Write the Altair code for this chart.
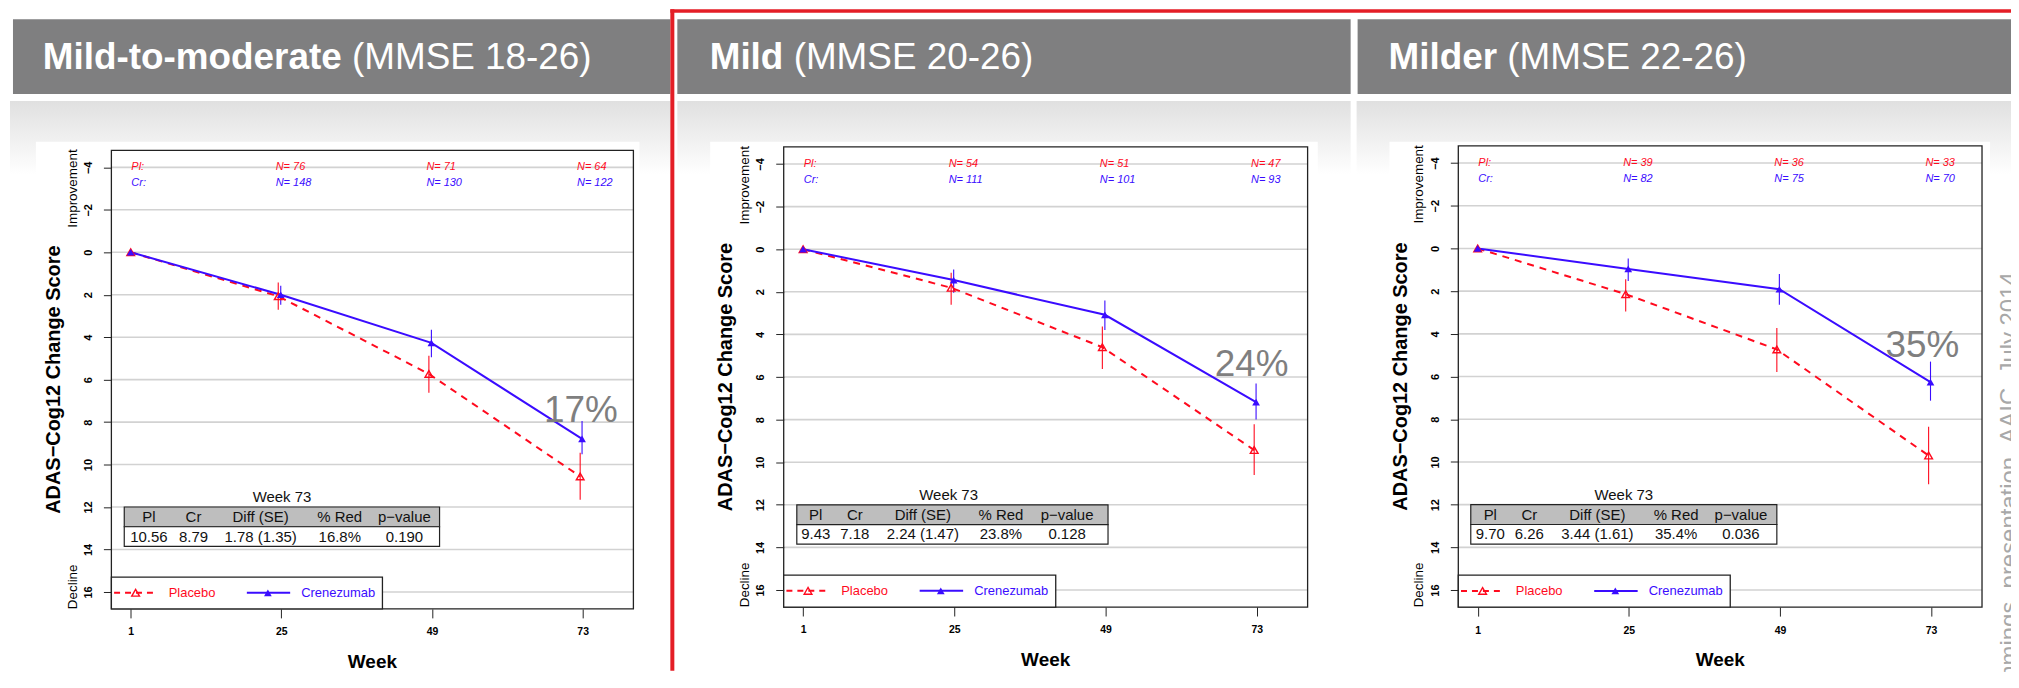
import altair as alt
import pandas as pd

# ---------------- chart values ----------------
weeks = [1, 25, 49, 73]
title_bold = ["Mild-to-moderate", "Mild", "Milder"]
title_rest = ["(MMSE 18-26)", "(MMSE 20-26)", "(MMSE 22-26)"]

placebo_x = [1, 24.5, 48.5, 72.6]
cren_x = [1, 24.9, 48.9, 72.9]

placebo_mean = [[0, 2.07, 5.73, 10.56], [0, 1.81, 4.60, 9.43], [0, 2.14, 4.73, 9.70]]
placebo_lo = [[0, 1.43, 4.87, 9.44], [0, 1.10, 3.63, 8.22], [0, 1.44, 3.72, 8.35]]
placebo_hi = [[0, 2.71, 6.62, 11.66], [0, 2.61, 5.62, 10.60], [0, 2.95, 5.79, 11.04]]
cren_mean = [[0, 2.00, 4.27, 8.79], [0, 1.45, 3.08, 7.18], [0, 0.96, 1.91, 6.26]]
cren_lo = [[0, 1.58, 3.65, 7.95], [0, 0.95, 2.41, 6.31], [0, 0.47, 1.20, 5.30]]
cren_hi = [[0, 2.47, 4.95, 9.52], [0, 2.04, 3.79, 7.99], [0, 1.52, 2.64, 7.13]]

n_placebo = [[76, 71, 64], [54, 51, 47], [39, 36, 33]]
n_cren = [[148, 130, 122], [111, 101, 93], [82, 75, 70]]

table_caption = "Week 73"
table_header = ["Pl", "Cr", "Diff (SE)", "% Red", "p\u2212value"]
table_values = [
    ["10.56", "8.79", "1.78 (1.35)", "16.8%", "0.190"],
    ["9.43", "7.18", "2.24 (1.47)", "23.8%", "0.128"],
    ["9.70", "6.26", "3.44 (1.61)", "35.4%", "0.036"],
]
pct_reduction = ["17%", "24%", "35%"]
y_ticks = [-4, -2, 0, 2, 4, 6, 8, 10, 12, 14, 16]
watermark = "Cummings_presentation_AAIC_July 2014"

# ---------------- layout / style ----------------
RED = "#FF0A1E"
BLUE = "#3A0CFF"
FONT = "Liberation Sans"
W, H = 2011, 664
X_DOM = [-2.08, 81.08]
Y_DOM = [-4.8, 16.8]
x_rng = [[103.8, 627.9], [778.8, 1304.8], [1456.1, 1981.9]]
y_rng = [[141.6, 602.0], [138.2, 600.1], [137.2, 600.2]]

n_row_y = [-4.0, -3.27]
n_label_x = [1.1, 24.1, 48.1, 72.1]
table_x = [[-0.03, 50.2], [0.0, 49.4], [-0.1, 48.5]]
table_y = [12.0, 12.93, 13.85]
table_text_y = [12.47, 13.39]
table_col_x = [[3.9, 11.0, 21.7, 34.3, 44.6], [3.0, 9.2, 20.0, 32.4, 42.9], [3.0, 9.2, 20.0, 32.5, 42.8]]
caption_x = [25.1, 24.1, 24.2]
caption_y = 11.53
legend_box = [41.1, 15.3]
legend_y = 16.04
leg_pl_seg, leg_pl_pt, leg_pl_txt = [-1.65, 5.3], 1.78, 7.05
leg_cr_seg, leg_cr_pt, leg_cr_txt = [19.5, 26.4], 22.85, 28.15
pct_pos = [(72.7, 8.0), (72.2, 5.97), (71.6, 5.1)]
ylab_pos = (-11.17, 6.0)
side_x, improvement_y, decline_y = -8.24, -3.0, 15.76
week_pos = (39.5, 19.28)

grad_x = [[2, 665], [672, 1348], [1354, 2011]]
grad_y = [92, 166]
head_x = [[5, 665], [672, 1348], [1355, 2011]]
head_y = [10, 85]
paper_x = [[28, 634], [705, 1315], [1387, 1990]]
paper_y = [133, 664]
head_text_x = [[35, 345.4], [704.5, 788.8], [1386, 1505.3]]
head_text_y = 60.3
watermark_pos = (1998, 264)


# ---------------- helpers for pixel-placed slide decorations ----------------
def px_rects(rows, **mark):
    df = pd.DataFrame(rows, columns=["x", "x2", "y", "y2"])
    return alt.Chart(df).mark_rect(**mark).encode(
        x=alt.X("x:Q", scale=None, axis=None), x2="x2:Q",
        y=alt.Y("y:Q", scale=None, axis=None), y2="y2:Q")


def px_text(rows, **mark):
    df = pd.DataFrame(rows, columns=["x", "y", "t"])
    return alt.Chart(df).mark_text(**mark).encode(
        x=alt.X("x:Q", scale=None, axis=None),
        y=alt.Y("y:Q", scale=None, axis=None), text="t:N")


gradient = alt.LinearGradient(
    gradient="linear", x1=0, x2=0, y1=0, y2=1,
    stops=[alt.GradientStop(color="#E0E0E0", offset=0),
           alt.GradientStop(color="#FFFFFF", offset=1)])

deco = [
    px_rects([[a, b, grad_y[0], grad_y[1]] for a, b in grad_x], fill=gradient),
    px_rects([[a, b, paper_y[0], paper_y[1]] for a, b in paper_x], color="white"),
    px_rects([[a, b, head_y[0], head_y[1]] for a, b in head_x], color="#7F7F80"),
    px_rects([[665, W, 0, 3.5], [665, 669, 0, H]], color="#E41E26"),
    px_text([[head_text_x[i][0], head_text_y, title_bold[i]] for i in range(3)],
            font=FONT, fontSize=37, fontWeight="bold", color="white",
            align="left", baseline="alphabetic"),
    px_text([[head_text_x[i][1], head_text_y, title_rest[i]] for i in range(3)],
            font=FONT, fontSize=37, color="white", align="left", baseline="alphabetic"),
    px_text([[watermark_pos[0], watermark_pos[1], watermark]], font=FONT, fontSize=24,
            color="#A8A8A8", angle=270, align="right", baseline="top"),
]


# ---------------- one R-style panel ----------------
def panel(i):
    xs = alt.Scale(domain=X_DOM, range=x_rng[i], nice=False, zero=False)
    ys = alt.Scale(domain=Y_DOM, range=y_rng[i], nice=False, zero=False)
    x_axis = alt.Axis(
        values=weeks, orient="bottom", offset=y_rng[i][1] - H, domain=False, grid=False,
        tickSize=9, tickColor="#222222", tickWidth=1, labelFont=FONT, labelFontSize=10.5,
        labelFontWeight="bold", labelColor="black", labelPadding=9, labelFlush=False,
        labelOverlap=False, format="d", title=None, zindex=2)
    y_axis = alt.Axis(
        values=y_ticks, orient="left", offset=-x_rng[i][0], domain=False, grid=False,
        tickSize=8, tickColor="#222222", tickWidth=1, labelFont=FONT, labelFontSize=11,
        labelFontWeight="bold", labelColor="black", labelAngle=270, labelAlign="center",
        labelBaseline="middle", labelPadding=15, labelFlush=False, labelOverlap=False,
        format="d", title=None, zindex=2)

    def XY(xf="x", yf="y"):
        return dict(x=alt.X(xf, type="quantitative", scale=xs, axis=x_axis),
                    y=alt.Y(yf, type="quantitative", scale=ys, axis=y_axis))

    grid = alt.Chart(pd.DataFrame({"y": y_ticks, "x": X_DOM[0], "x2": X_DOM[1]})).mark_rule(
        color="#D2D2D2", strokeWidth=1.6).encode(**XY(), x2="x2:Q")

    frame = alt.Chart(pd.DataFrame({"x": [X_DOM[0]], "x2": [X_DOM[1]],
                                    "y": [Y_DOM[0]], "y2": [Y_DOM[1]]})).mark_rect(
        fillOpacity=0, stroke="#222222", strokeWidth=1.3).encode(**XY(), x2="x2:Q", y2="y2:Q")

    pl = pd.DataFrame({"x": placebo_x, "y": placebo_mean[i], "lo": placebo_lo[i], "hi": placebo_hi[i]})
    cr = pd.DataFrame({"x": cren_x, "y": cren_mean[i], "lo": cren_lo[i], "hi": cren_hi[i]})

    pl_err = alt.Chart(pl.iloc[1:]).mark_rule(color=RED, strokeWidth=1.1).encode(**XY("x", "lo"), y2="hi:Q")
    cr_err = alt.Chart(cr.iloc[1:]).mark_rule(color=BLUE, strokeWidth=1.1).encode(**XY("x", "lo"), y2="hi:Q")
    pl_line = alt.Chart(pl).mark_line(color=RED, strokeWidth=2, strokeDash=[7, 6]).encode(**XY())
    cr_line = alt.Chart(cr).mark_line(color=BLUE, strokeWidth=2).encode(**XY())
    pl_pt = alt.Chart(pl).mark_point(shape="triangle-up", filled=False, color=RED, size=60,
                                     strokeWidth=1.4, opacity=1).encode(**XY())
    cr_pt = alt.Chart(cr).mark_point(shape="triangle-up", filled=True, color=BLUE, size=60,
                                     opacity=1).encode(**XY())

    n_pl = pd.DataFrame({"x": n_label_x, "y": n_row_y[0],
                         "t": ["Pl:"] + [f"N= {n}" for n in n_placebo[i]]})
    n_cr = pd.DataFrame({"x": n_label_x, "y": n_row_y[1],
                         "t": ["Cr:"] + [f"N= {n}" for n in n_cren[i]]})
    n_txt = [alt.Chart(df).mark_text(font=FONT, fontSize=11, fontStyle="italic", color=c,
                                     align="left", baseline="middle").encode(**XY(), text="t:N")
             for df, c in ((n_pl, RED), (n_cr, BLUE))]

    # table (Week 73 summary)
    tb = pd.DataFrame({"x": [table_x[i][0]] * 2, "x2": [table_x[i][1]] * 2,
                       "y": [table_y[0], table_y[1]], "y2": [table_y[1], table_y[2]],
                       "f": ["#BEBEBE", "#FFFFFF"]})
    tb_rect = alt.Chart(tb).mark_rect(stroke="#222222", strokeWidth=1.2).encode(
        **XY(), x2="x2:Q", y2="y2:Q", fill=alt.Fill("f:N", scale=None))
    cells = pd.DataFrame({
        "x": table_col_x[i] * 2 + [caption_x[i]],
        "y": [table_text_y[0]] * 5 + [table_text_y[1]] * 5 + [caption_y],
        "t": table_header + table_values[i] + [table_caption]})
    tb_txt = alt.Chart(cells).mark_text(font=FONT, fontSize=15, color="#111111",
                                        align="center", baseline="middle").encode(**XY(), text="t:N")

    # legend box
    lg = pd.DataFrame({"x": [X_DOM[0]], "x2": [legend_box[0]], "y": [legend_box[1]], "y2": [Y_DOM[1]]})
    lg_rect = alt.Chart(lg).mark_rect(fill="white", stroke="#222222", strokeWidth=1.3).encode(
        **XY(), x2="x2:Q", y2="y2:Q")
    lg_pl_line = alt.Chart(pd.DataFrame({"x": leg_pl_seg, "y": legend_y})).mark_line(
        color=RED, strokeWidth=2, strokeDash=[6, 5]).encode(**XY())
    lg_cr_line = alt.Chart(pd.DataFrame({"x": leg_cr_seg, "y": legend_y})).mark_line(
        color=BLUE, strokeWidth=2).encode(**XY())
    lg_pl_pt = alt.Chart(pd.DataFrame({"x": [leg_pl_pt], "y": [legend_y]})).mark_point(
        shape="triangle-up", filled=False, color=RED, size=60, strokeWidth=1.4, opacity=1).encode(**XY())
    lg_cr_pt = alt.Chart(pd.DataFrame({"x": [leg_cr_pt], "y": [legend_y]})).mark_point(
        shape="triangle-up", filled=True, color=BLUE, size=60, opacity=1).encode(**XY())
    lg_txt = alt.Chart(pd.DataFrame({"x": [leg_pl_txt, leg_cr_txt], "y": legend_y,
                                     "t": ["Placebo", "Crenezumab"], "c": [RED, BLUE]})).mark_text(
        font=FONT, fontSize=13, align="left", baseline="middle").encode(
        **XY(), text="t:N", color=alt.Color("c:N", scale=None))

    pct = alt.Chart(pd.DataFrame({"x": [pct_pos[i][0]], "y": [pct_pos[i][1]], "t": [pct_reduction[i]]})).mark_text(
        font=FONT, fontSize=37, color="#7F7F7F", align="center", baseline="alphabetic").encode(**XY(), text="t:N")

    ylab = alt.Chart(pd.DataFrame({"x": [ylab_pos[0]], "y": [ylab_pos[1]], "t": ["ADAS\u2212Cog12 Change Score"]})).mark_text(
        font=FONT, fontSize=20, fontWeight="bold", color="black", angle=270,
        align="center", baseline="middle").encode(**XY(), text="t:N")
    side = alt.Chart(pd.DataFrame({"x": [side_x, side_x], "y": [improvement_y, decline_y],
                                   "t": ["Improvement", "Decline"]})).mark_text(
        font=FONT, fontSize=13.5, color="black", angle=270, align="center", baseline="middle").encode(
        **XY(), text="t:N")
    xlab = alt.Chart(pd.DataFrame({"x": [week_pos[0]], "y": [week_pos[1]], "t": ["Week"]})).mark_text(
        font=FONT, fontSize=19, fontWeight="bold", color="black", align="center", baseline="middle").encode(
        **XY(), text="t:N")

    return alt.layer(grid, frame, pl_err, cr_err, pl_line, cr_line, pl_pt, cr_pt, *n_txt,
                     tb_rect, tb_txt, lg_rect, lg_pl_line, lg_cr_line, lg_pl_pt, lg_cr_pt, lg_txt,
                     pct, ylab, side, xlab)


chart = alt.layer(*deco, panel(0), panel(1), panel(2)).resolve_scale(
    x="independent", y="independent").properties(
    width=W, height=H, autosize=alt.AutoSizeParams(type="none"), padding=0,
    background="white").configure_view(stroke=None)

chart.save("out.html", embed_options={"renderer": "svg", "actions": False})
